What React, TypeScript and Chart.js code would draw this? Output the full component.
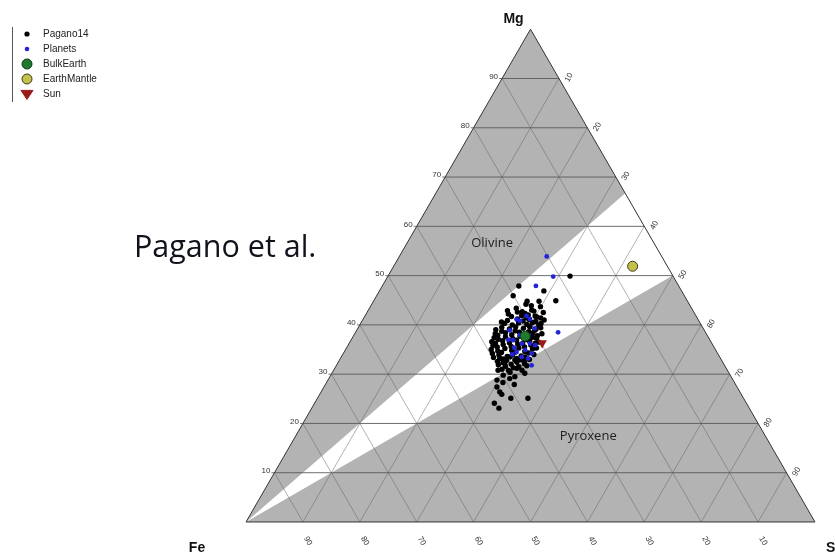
import React, { useEffect, useRef } from "react";
import { Chart, registerables } from "chart.js";
Chart.register(...registerables);

// Ternary data: [Mg %, Si %] (Fe % = 100 - Mg - Si)
const pagano14: [number, number][] = [
  [49.9, 32.0], [47.9, 24.0], [45.9, 24.0], [46.9, 28.9], [44.9, 32.0], [44.8, 29.1],
  [44.8, 27.0], [44.2, 27.1], [42.7, 27.2], [43.0, 28.7], [43.7, 29.9], [41.0, 31.9],
  [41.6, 30.3], [42.0, 28.6], [39.6, 30.1], [38.9, 31.3], [37.3, 32.4],
  [30.8, 28.9], [29.8, 30.3], [29.1, 31.8], [28.8, 29.7], [26.4, 31.4], [25.9, 32.0],
  [25.1, 34.0], [25.1, 37.0], [23.1, 32.9], [30.2, 33.9], [30.8, 30.7], [31.2, 32.0],
  [30.8, 33.1], [32.9, 30.8], [32.5, 29.3], [33.5, 29.6], [33.2, 28.0],
  [42.9, 24.5], [42.5, 31.0], [39.0, 24.4], [37.4, 24.9], [35.8, 25.5], [34.2, 26.2],
  [42.6, 26.4], [42.3, 27.9], [42.8, 29.2],
  [41.7, 25.8], [41.9, 27.5], [41.5, 28.5], [41.8, 29.9],
  [40.9, 25.5], [41.2, 27.1], [40.8, 28.3], [41.1, 29.2], [40.7, 30.6],
  [40.3, 25.3], [40.0, 26.8], [40.4, 27.7], [40.1, 29.3], [40.5, 30.1], [39.9, 31.5],
  [39.5, 25.2], [39.2, 26.7], [39.6, 27.6], [39.3, 29.1], [39.7, 30.0], [39.1, 31.4],
  [38.7, 25.6], [38.4, 26.4], [38.8, 27.9], [38.5, 28.8], [38.6, 30.4], [38.3, 31.2],
  [37.9, 25.3], [37.6, 26.8], [38.0, 27.7], [37.7, 29.3], [37.9, 30.1], [37.5, 31.6], [37.8, 32.3],
  [37.1, 25.8], [36.8, 26.7], [37.2, 28.3], [36.9, 29.1], [37.0, 30.6], [36.7, 31.5],
  [36.3, 25.7], [36.0, 27.2], [36.4, 28.1], [36.1, 29.7], [36.2, 30.5], [35.9, 32.1], [36.3, 32.7],
  [35.5, 26.4], [35.2, 27.9], [35.6, 28.8], [35.3, 30.3], [35.5, 31.2], [35.1, 32.8],
  [34.7, 26.9], [34.4, 27.7], [34.8, 29.3], [34.5, 30.1], [34.6, 31.7], [34.3, 32.5],
  [33.9, 27.5], [33.6, 29.1], [33.9, 29.9], [33.7, 31.5], [33.5, 32.3],
  [33.1, 28.6], [32.8, 29.4], [33.2, 31.0], [32.9, 31.8], [33.0, 33.3],
  [32.3, 29.0], [32.0, 30.6], [32.4, 31.4], [32.1, 32.9],
  [31.6, 29.8], [31.3, 31.3], [31.5, 32.2],
  [40.6, 24.6], [38.2, 24.7], [36.6, 24.9], [35.0, 25.6], [33.4, 26.8], [32.6, 27.9],
  [31.9, 28.4], [31.0, 29.5], [30.4, 31.2], [29.5, 32.5], [31.7, 33.5], [32.6, 32.6],
  [34.0, 33.6], [35.3, 33.4], [36.5, 33.2], [38.2, 32.9], [39.4, 32.1], [40.3, 31.7],
  [41.4, 31.1], [43.4, 25.8], [43.9, 28.2], [42.2, 25.0], [28.3, 31.0], [27.4, 30.4],
  [24.1, 31.6], [27.9, 33.2],
];

const planets: [number, number][] = [
  [53.9, 25.9], [49.8, 29.1], [47.9, 27.0], [38.5, 35.6],
  [41.1, 27.0], [41.8, 28.4], [39.3, 31.1], [37.9, 29.2], [37.9, 30.7], [36.9, 28.5],
  [36.2, 30.4], [36.2, 31.8], [35.9, 32.9], [34.9, 31.6], [34.5, 30.3], [34.2, 33.1],
  [33.5, 31.7], [33.2, 33.0], [31.8, 34.3], [41.2, 29.3], [40.8, 27.8], [38.9, 26.9],
  [35.4, 29.4], [34.0, 29.8], [37.0, 27.6],
];

const bulkEarth: [number, number][] = [[37.7, 30.2]];
const earthMantle: [number, number][] = [[51.9, 42.0]];
const sun: [number, number][] = [[36.3, 33.9]];

// White olivine–pyroxene band (Mg/Si between 1 and 2)
const bandBoundary: [number, number][] = [[0, 0], [66.7, 33.3], [50, 50]];

const gridTicks = [10, 20, 30, 40, 50, 60, 70, 80, 90];
const tickLabels = gridTicks.map(String);

const legendNames = ["Pagano14", "Planets", "BulkEarth", "EarthMantle", "Sun"];

const SQ = Math.sqrt(3) / 2;
const toXY = (d: [number, number][]) => d.map(([mg, si]) => ({ x: si + mg / 2, y: mg * SQ }));

const ternaryPlugin = {
  id: "ternary",
  beforeDatasetsDraw(chart: any) {
    const { ctx } = chart;
    const xs = chart.scales.x;
    const ys = chart.scales.y;
    const P = (mg: number, si: number): [number, number] => [
      xs.getPixelForValue(si + mg / 2),
      ys.getPixelForValue(mg * SQ),
    ];
    ctx.save();
    const A = P(0, 0), B = P(0, 100), C = P(100, 0);
    // gray triangle
    ctx.beginPath();
    ctx.moveTo(A[0], A[1]); ctx.lineTo(B[0], B[1]); ctx.lineTo(C[0], C[1]); ctx.closePath();
    ctx.fillStyle = "#b3b3b3";
    ctx.fill();
    // white band
    ctx.beginPath();
    bandBoundary.forEach(([mg, si], i) => {
      const p = P(mg, si);
      if (i === 0) ctx.moveTo(p[0], p[1]); else ctx.lineTo(p[0], p[1]);
    });
    ctx.closePath();
    ctx.fillStyle = "#ffffff";
    ctx.fill();
    // grid lines
    const line = (p: [number, number], q: [number, number]) => {
      ctx.beginPath(); ctx.moveTo(p[0], p[1]); ctx.lineTo(q[0], q[1]); ctx.stroke();
    };
    ctx.lineWidth = 0.7;
    ctx.strokeStyle = "rgba(95,95,95,0.7)";
    gridTicks.forEach((k) => {
      line(P(0, k), P(100 - k, k));
      line(P(0, 100 - k), P(100 - k, 0));
    });
    ctx.lineWidth = 1;
    ctx.strokeStyle = "rgba(85,85,85,0.85)";
    gridTicks.forEach((k) => line(P(k, 0), P(k, 100 - k)));
    // outline
    ctx.lineWidth = 1;
    ctx.strokeStyle = "#333";
    ctx.beginPath();
    ctx.moveTo(A[0], A[1]); ctx.lineTo(B[0], B[1]); ctx.lineTo(C[0], C[1]); ctx.closePath();
    ctx.stroke();

    // tick labels
    ctx.fillStyle = "#333";
    ctx.font = '8px "Liberation Sans", Arial, sans-serif';
    gridTicks.forEach((k, i) => {
      const lab = tickLabels[i];
      // left edge: Mg
      const l = P(k, 0);
      ctx.textAlign = "right";
      ctx.textBaseline = "middle";
      ctx.fillText(lab, l[0] - 4, l[1] - 2);
      ctx.strokeStyle = "#555";
      ctx.lineWidth = 0.8;
      ctx.beginPath(); ctx.moveTo(l[0] - 3, l[1]); ctx.lineTo(l[0], l[1]); ctx.stroke();
      // right edge: Si
      const r = P(100 - k, k);
      ctx.save();
      ctx.translate(r[0] + 10, r[1] - 1);
      ctx.rotate(-Math.PI / 3);
      ctx.textAlign = "center";
      ctx.fillText(lab, 0, 0);
      ctx.restore();
      // bottom edge: Fe
      const b = P(0, 100 - k);
      ctx.save();
      ctx.translate(b[0] + 5, b[1] + 19);
      ctx.rotate(Math.PI / 3);
      ctx.textAlign = "center";
      ctx.fillText(lab, 0, 0);
      ctx.restore();
    });

    // vertex labels
    ctx.fillStyle = "#111";
    ctx.font = 'bold 14px "Liberation Sans", Arial, sans-serif';
    ctx.textBaseline = "middle";
    ctx.textAlign = "center";
    ctx.fillText("Mg", C[0] - 17, C[1] - 10);
    ctx.fillText("Fe", A[0] - 49, A[1] + 26);
    ctx.textAlign = "left";
    ctx.fillText("Si", B[0] + 11, B[1] + 26);

    // region labels
    ctx.fillStyle = "#222";
    ctx.font = '13px "Open Sans", sans-serif';
    ctx.textAlign = "center";
    const ol = P(56.5, 15);
    ctx.fillText("Olivine", ol[0], ol[1]);
    const py = P(17.3, 51.5);
    ctx.fillText("Pyroxene", py[0], py[1]);
    ctx.restore();
  },
  afterDraw(chart: any) {
    const { ctx } = chart;
    ctx.save();
    // Big annotation
    ctx.fillStyle = "#10121c";
    ctx.font = '30.5px "Open Sans", sans-serif';
    ctx.textAlign = "left";
    ctx.textBaseline = "alphabetic";
    ctx.fillText("Pagano et al.", 134, 257);

    // legend
    ctx.strokeStyle = "#555";
    ctx.lineWidth = 1;
    ctx.beginPath(); ctx.moveTo(12.5, 27); ctx.lineTo(12.5, 102); ctx.stroke();
    const ys = [34, 49, 64, 79, 94];
    const mx = 27;
    ctx.font = '10px "Liberation Sans", Arial, sans-serif';
    ctx.textBaseline = "middle";
    legendNames.forEach((name, i) => {
      const y = ys[i];
      const ds = chart.data.datasets[i];
      ctx.beginPath();
      if (i === 4) {
        const r = 6;
        ctx.moveTo(mx - r, y - r * 0.6);
        ctx.lineTo(mx + r, y - r * 0.6);
        ctx.lineTo(mx, y + r * 0.9);
        ctx.closePath();
      } else {
        const r = i === 0 ? 2.6 : i === 1 ? 2.3 : 5;
        ctx.arc(mx, y, r, 0, Math.PI * 2);
      }
      ctx.fillStyle = ds.backgroundColor;
      ctx.fill();
      if (i >= 2) {
        ctx.strokeStyle = ds.borderColor;
        ctx.lineWidth = 1;
        ctx.stroke();
      }
      ctx.fillStyle = "#222";
      ctx.fillText(name, 43, y);
    });
    ctx.restore();
  },
};

export default function App() {
  const ref = useRef<HTMLCanvasElement>(null);
  useEffect(() => {
    if (!ref.current) return;
    const chart = new Chart(ref.current, {
      type: "scatter",
      data: {
        datasets: [
          { label: "Pagano14", data: toXY(pagano14), backgroundColor: "#000000", borderColor: "#000000", pointRadius: 2.7, borderWidth: 0, order: 5 },
          { label: "Planets", data: toXY(planets), backgroundColor: "#2323d8", borderColor: "#2323d8", pointRadius: 2.4, borderWidth: 0, order: 4 },
          { label: "BulkEarth", data: toXY(bulkEarth), backgroundColor: "#1f7a2e", borderColor: "#0d3a14", pointRadius: 5, borderWidth: 1, order: 3 },
          { label: "EarthMantle", data: toXY(earthMantle), backgroundColor: "#c4c04a", borderColor: "#3d3a18", pointRadius: 5, borderWidth: 1, order: 2 },
          { label: "Sun", data: toXY(sun), backgroundColor: "#9b1a1a", borderColor: "#9b1a1a", pointRadius: 5.5, pointStyle: "triangle", rotation: 180, borderWidth: 0, order: 1 },
        ] as any,
      },
      options: {
        responsive: false,
        animation: false,
        layout: { padding: 0, autoPadding: false },
        plugins: { legend: { display: false }, tooltip: { enabled: false }, title: { display: false } },
        scales: {
          x: { type: "linear", min: -43.234, max: 103.515, display: false },
          y: { type: "linear", min: -5.624, max: 91.74, display: false },
        },
      },
      plugins: [ternaryPlugin],
    });
    return () => chart.destroy();
  }, []);
  return (
    <div style={{ position: "absolute", left: 0, top: 0, width: 835, height: 554, background: "#fff" }}>
      <canvas ref={ref} width={835} height={554} style={{ display: "block" }} />
    </div>
  );
}
